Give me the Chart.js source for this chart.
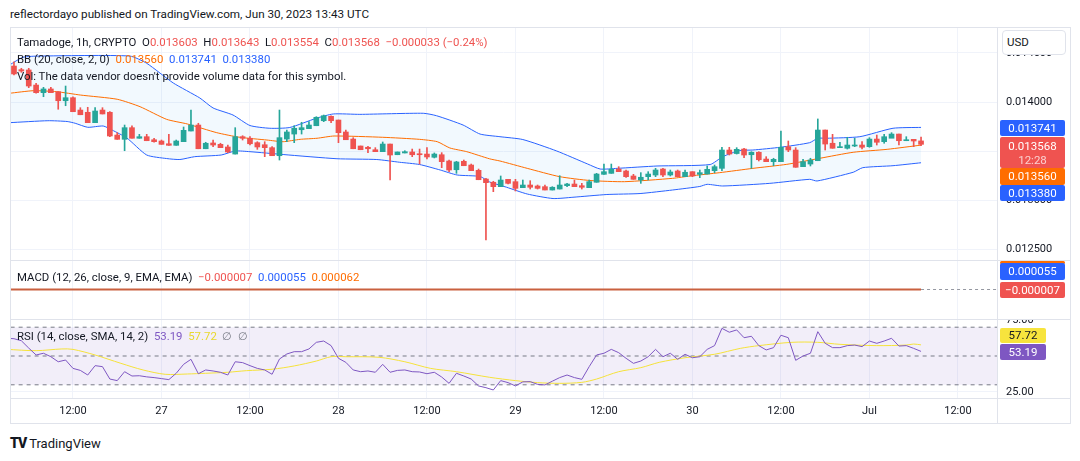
<!DOCTYPE html>
<html>
<head>
<meta charset="utf-8">
<script src="https://cdn.jsdelivr.net/npm/chart.js@4.4.0/dist/chart.umd.min.js"></script>
<style>
  body { margin: 0; width: 1080px; height: 461px; overflow: hidden; position: relative; background: #fff; font-family: Roboto, "Liberation Sans", sans-serif; color: #131722; }
  canvas { position: absolute; }
  .hl { position: absolute; height: 1px; background: #e0e3eb; }
  .vl { position: absolute; width: 1px; background: #e0e3eb; }
  .leg { position: absolute; left: 17px; font-size: 11.4px; line-height: 14px; white-space: pre; }
  .tag { position: absolute; left: 1000px; width: 65px; color: #fff; font-size: 11.5px; text-align: center; border-radius: 2px; }
  .r { color: #ef5350; } .o { color: #ff6d00; } .b { color: #2962ff; } .p { color: #7e57c2; } .y { color: #e8d82c; } .g { color: #787b86; }
</style>
</head>
<body>
<div style="position:absolute;left:10px;top:7px;font-size:11.7px;line-height:14px;">reflectordayo published on TradingView.com, Jun 30, 2023 13:43 UTC</div>

<canvas id="priceChart" width="1060" height="233" style="left:10px;top:27px"></canvas>
<canvas id="macdChart" width="1060" height="59" style="left:10px;top:260px"></canvas>
<canvas id="rsiChart" width="1060" height="104" style="left:10px;top:319px"></canvas>

<div class="hl" style="left:10px;top:27px;width:1061px"></div>
<div class="hl" style="left:10px;top:260px;width:1061px"></div>
<div class="hl" style="left:10px;top:319px;width:1061px"></div>
<div class="hl" style="left:10px;top:398px;width:1061px"></div>
<div class="hl" style="left:10px;top:423px;width:1061px"></div>
<div class="vl" style="left:10px;top:27px;height:397px"></div>
<div class="vl" style="left:997px;top:27px;height:397px"></div>
<div class="vl" style="left:1070px;top:27px;height:397px"></div>

<div class="leg" style="top:35px">Tamadoge, 1h, CRYPTO  O<span class="r">0.013603</span>  H<span class="r">0.013643</span>  L<span class="r">0.013554</span>  C<span class="r">0.013568</span>  <span class="r">−0.000033 (−0.24%)</span></div>
<div class="leg" style="top:52px">BB (20, close, 2, 0)  <span class="o">0.013560</span>  <span class="b">0.013741</span>  <span class="b">0.013380</span></div>
<div class="leg" style="top:69px">Vol: The data vendor doesn't provide volume data for this symbol.</div>
<div class="leg" style="top:270px">MACD (12, 26, close, 9, EMA, EMA)  <span class="r">−0.000007</span>  <span class="b">0.000055</span>  <span class="o">0.000062</span></div>
<div class="leg" style="top:329px">RSI (14, close, SMA, 14, 2)  <span class="p">53.19</span>  <span class="y">57.72</span>  <span class="g">∅  ∅</span></div>

<div style="position:absolute;left:1002px;top:30px;width:64px;height:25px;border:1px solid #e0e3eb;border-radius:4px;font-size:11.5px;line-height:23px;padding-left:4px;box-sizing:border-box;background:#fff">USD</div>
<div class="tag" style="top:120px;height:16px;line-height:16px;background:#2962ff">0.013741</div>
<div class="tag" style="top:137px;height:31px;line-height:14px;background:#ef5350;padding-top:2px;box-sizing:border-box">0.013568<br><span style="color:#fbd0cf">12:28</span></div>
<div class="tag" style="top:168px;height:17px;line-height:17px;background:#ff6d00">0.013560</div>
<div class="tag" style="top:185px;height:16px;line-height:16px;background:#2962ff">0.013380</div>
<div class="tag" style="top:261px;height:3px;background:#ff6d00"></div>
<div class="tag" style="top:263px;height:17px;line-height:17px;background:#2962ff">0.000055</div>
<div class="tag" style="top:282px;height:16px;line-height:16px;background:#ef5350">−0.000007</div>
<div class="tag" style="top:328px;height:15px;line-height:15px;width:46px;background:#f7e43d;color:#131722">57.72</div>
<div class="tag" style="top:344px;height:16px;line-height:16px;width:46px;background:#7e57c2">53.19</div>

<div style="position:absolute;left:10px;top:436px;font-size:13px;line-height:14px;"><span style="font-weight:900;letter-spacing:-1px;font-size:14px">TV</span> TradingView</div>

<script>
const tickIdx = [8, 20, 32, 44, 56, 68, 80, 92, 104, 116, 128];
const tickLabels = ['12:00', '27', '12:00', '28', '12:00', '29', '12:00', '30', '12:00', 'Jul', '12:00'];
const priceTicks = [0.0125, 0.013, 0.0135, 0.014, 0.0145];
const rsiTicks = [25, 75];

const open = [0.014367,0.014330,0.014327,0.014173,0.014095,0.014133,0.014105,0.014013,0.014044,0.013918,0.013895,0.013789,0.013918,0.013895,0.013663,0.013619,0.013738,0.013630,0.013646,0.013615,0.013602,0.013574,0.013558,0.013595,0.013704,0.013765,0.013523,0.013582,0.013568,0.013541,0.013469,0.013646,0.013630,0.013585,0.013564,0.013534,0.013452,0.013622,0.013673,0.013717,0.013728,0.013758,0.013809,0.013854,0.013816,0.013694,0.013622,0.013551,0.013538,0.013513,0.013493,0.013571,0.013462,0.013480,0.013490,0.013472,0.013469,0.013436,0.013462,0.013398,0.013309,0.013395,0.013357,0.013303,0.013214,0.013181,0.013136,0.013211,0.013187,0.013126,0.013153,0.013143,0.013136,0.013102,0.013112,0.013146,0.013163,0.013146,0.013126,0.013181,0.013262,0.013272,0.013316,0.013296,0.013245,0.013204,0.013238,0.013255,0.013316,0.013255,0.013296,0.013238,0.013289,0.013262,0.013265,0.013299,0.013323,0.013510,0.013474,0.013520,0.013462,0.013487,0.013418,0.013391,0.013391,0.013544,0.013510,0.013340,0.013367,0.013401,0.013714,0.013579,0.013534,0.013528,0.013551,0.013561,0.013544,0.013622,0.013595,0.013630,0.013673,0.013605,0.013619,0.013603];
const high = [0.014411,0.014344,0.014344,0.014191,0.014150,0.014150,0.014105,0.014163,0.014054,0.013942,0.013946,0.013942,0.013942,0.013901,0.013687,0.013765,0.013758,0.013670,0.013670,0.013630,0.013612,0.013670,0.013612,0.013745,0.013918,0.013783,0.013589,0.013612,0.013579,0.013561,0.013738,0.013656,0.013646,0.013595,0.013595,0.013544,0.013918,0.013714,0.013758,0.013793,0.013799,0.013850,0.013867,0.013860,0.013816,0.013714,0.013636,0.013551,0.013548,0.013534,0.013592,0.013571,0.013490,0.013503,0.013520,0.013520,0.013534,0.013480,0.013483,0.013408,0.013395,0.013408,0.013367,0.013316,0.013221,0.013191,0.013245,0.013211,0.013211,0.013204,0.013197,0.013153,0.013153,0.013136,0.013248,0.013170,0.013204,0.013170,0.013204,0.013272,0.013367,0.013367,0.013340,0.013306,0.013262,0.013279,0.013289,0.013323,0.013323,0.013306,0.013306,0.013306,0.013289,0.013306,0.013347,0.013357,0.013538,0.013538,0.013534,0.013527,0.013493,0.013493,0.013442,0.013426,0.013704,0.013602,0.013534,0.013415,0.013426,0.013827,0.013714,0.013670,0.013589,0.013640,0.013630,0.013595,0.013636,0.013663,0.013670,0.013687,0.013673,0.013646,0.013619,0.013643];
const low = [0.014276,0.014303,0.014146,0.014089,0.014054,0.014095,0.013926,0.013962,0.013901,0.013870,0.013789,0.013789,0.013878,0.013646,0.013619,0.013503,0.013630,0.013630,0.013605,0.013589,0.013568,0.013558,0.013558,0.013595,0.013704,0.013523,0.013523,0.013544,0.013534,0.013483,0.013469,0.013612,0.013561,0.013517,0.013442,0.013452,0.013408,0.013595,0.013585,0.013673,0.013728,0.013758,0.013799,0.013789,0.013585,0.013615,0.013523,0.013513,0.013483,0.013493,0.013493,0.013204,0.013462,0.013480,0.013442,0.013367,0.013418,0.013429,0.013330,0.013289,0.013272,0.013350,0.013299,0.013207,0.012592,0.013085,0.013136,0.013163,0.013092,0.013126,0.013112,0.013112,0.013102,0.013102,0.013112,0.013136,0.013136,0.013112,0.013126,0.013181,0.013262,0.013272,0.013289,0.013231,0.013211,0.013170,0.013204,0.013238,0.013238,0.013245,0.013238,0.013238,0.013238,0.013228,0.013265,0.013279,0.013299,0.013459,0.013469,0.013432,0.013323,0.013398,0.013391,0.013350,0.013391,0.013493,0.013334,0.013340,0.013347,0.013401,0.013510,0.013528,0.013534,0.013520,0.013544,0.013520,0.013538,0.013561,0.013579,0.013636,0.013561,0.013605,0.013544,0.013554];
const close = [0.014286,0.014316,0.014163,0.014095,0.014133,0.014095,0.014013,0.014044,0.013901,0.013870,0.013789,0.013908,0.013878,0.013653,0.013619,0.013738,0.013630,0.013646,0.013605,0.013595,0.013568,0.013558,0.013602,0.013711,0.013765,0.013523,0.013579,0.013561,0.013534,0.013490,0.013646,0.013630,0.013574,0.013541,0.013534,0.013452,0.013636,0.013694,0.013732,0.013738,0.013765,0.013844,0.013860,0.013809,0.013687,0.013615,0.013523,0.013513,0.013523,0.013493,0.013571,0.013459,0.013490,0.013493,0.013462,0.013462,0.013439,0.013469,0.013391,0.013306,0.013388,0.013350,0.013299,0.013207,0.013177,0.013136,0.013204,0.013170,0.013119,0.013153,0.013130,0.013119,0.013102,0.013130,0.013153,0.013163,0.013136,0.013130,0.013187,0.013265,0.013289,0.013313,0.013289,0.013238,0.013211,0.013232,0.013265,0.013306,0.013255,0.013286,0.013238,0.013283,0.013245,0.013279,0.013313,0.013340,0.013510,0.013469,0.013517,0.013459,0.013487,0.013411,0.013391,0.013415,0.013538,0.013510,0.013334,0.013391,0.013408,0.013714,0.013571,0.013528,0.013544,0.013561,0.013561,0.013538,0.013622,0.013589,0.013646,0.013673,0.013605,0.013612,0.013602,0.013568];

// Bollinger bands at the bends
const bbUpperX = [-0.6,1.2,3.5,15.7,18.0,21.6,25.2,27.0,29.7,32.0,34.7,37.4,41.0,43.3,46.9,55.5,57.3,60.9,63.2,65.9,69.0,73.6,77.8,79.5,81.8,87.2,94.4,96.1,98.4,100.2,103.9,107.9,109.0,110.2,114.7,119.2,123];
const bbUpper = [0.014378,0.014456,0.014469,0.014469,0.014395,0.014194,0.014041,0.013939,0.013867,0.013760,0.013732,0.013740,0.013834,0.013878,0.013874,0.013885,0.013860,0.013765,0.013673,0.013646,0.013617,0.013500,0.013367,0.013316,0.013323,0.013347,0.013362,0.013442,0.013505,0.013510,0.013538,0.013585,0.013630,0.013630,0.013646,0.013732,0.013741];
const bbBasisX = [-0.6,2.6,5.8,9.0,14.0,17.1,20.7,23.5,27.5,30.6,34.3,36.5,38.8,41.1,43.4,50.0,55.0,57.4,59.1,61.4,64.5,65.9,69.6,74.0,78.1,82.8,89.3,91.7,95.7,100.2,104.8,109.3,113.8,118.4,123];
const bbBasis = [0.014089,0.014115,0.014105,0.014071,0.014028,0.013952,0.013823,0.013776,0.013687,0.013640,0.013612,0.013595,0.013619,0.013630,0.013653,0.013640,0.013619,0.013595,0.013531,0.013493,0.013420,0.013398,0.013323,0.013238,0.013199,0.013187,0.013221,0.013245,0.013279,0.013323,0.013364,0.013426,0.013487,0.013517,0.013560];
const bbLowerX = [-0.6,4.6,7.2,8.3,10.0,12.1,13.3,15.3,18.0,20.7,22.5,24.5,28.1,30.0,32.0,36.5,43.8,49.2,52.3,55.0,57.8,60.1,63.2,64.5,66.8,69.6,73.1,75.8,80.4,84.9,89.3,93.0,94.0,96.1,102.5,107.9,108.9,113.8,115.1,119.2,123];
const bbLower = [0.013789,0.013809,0.013801,0.013783,0.013742,0.013755,0.013714,0.013633,0.013459,0.013423,0.013413,0.013442,0.013459,0.013500,0.013493,0.013464,0.013421,0.013413,0.013385,0.013362,0.013306,0.013255,0.013240,0.013184,0.013130,0.013061,0.013015,0.013028,0.013056,0.013066,0.013102,0.013138,0.013160,0.013143,0.013170,0.013211,0.013194,0.013283,0.013330,0.013350,0.013380];

// MACD pane is flat at this zoom
const macdX = [-1, 123];
const macdVals = [-0.000007, -0.000007];

// RSI, one value per bar starting one bar before the first candle
const rsi = [62.3,62.0,60.6,55.5,50.7,51.9,49.5,46.0,47.2,41.4,40.0,36.8,43.3,42.6,34.0,32.9,39.1,36.1,36.3,35.5,35.0,34.3,33.6,38.0,44.2,47.7,37.7,40.3,39.6,38.7,36.8,46.0,45.4,43.3,41.4,40.3,37.3,47.9,51.4,53.0,53.0,54.9,59.5,60.4,57.2,48.4,45.6,40.3,39.1,39.6,38.7,44.2,38.7,40.0,40.3,39.1,38.9,37.7,38.7,35.4,31.0,38.0,36.1,34.0,29.2,28.0,26.4,32.9,31.5,29.2,32.0,32.2,30.3,29.9,32.5,35.0,36.8,35.0,33.8,42.6,50.7,51.9,54.6,52.3,48.4,44.9,46.5,49.5,54.6,49.5,51.9,47.7,51.2,48.8,49.5,54.6,57.2,69.2,66.5,68.1,62.7,63.7,57.2,54.2,55.8,64.4,62.7,47.0,50.0,51.9,66.9,58.8,55.8,55.8,57.2,57.6,56.5,60.4,58.8,60.4,62.3,56.9,57.2,55.3,53.19];
const rsiMaX = [-1,3,6.5,8,11,14.5,17.5,20.5,23.5,26,29,31.5,35,38,41,43,45,49.5,53,56.5,60,64.5,68,71,74,77,79,82,85,87.5,91,95,98.5,101,105.5,109,112,117,121,122,123];
const rsiMa = [54.6,53.7,54.9,54.6,50.7,44.9,40.3,37.3,37.5,38.0,38.7,39.8,40.8,43.1,46.5,49.5,49.5,49.1,46.0,41.4,39.1,35.2,32.9,31.5,31.0,31.7,34.0,39.1,41.9,45.6,48.8,51.2,55.3,57.2,59.5,59.5,58.1,57.2,57.6,58.3,57.72];
const rsiLevels = [70, 50, 30];

const UP = '#26a69a';
const DOWN = '#ef5350';
const X_MIN = -0.54;
const X_MAX = 133.3;
const GRID = '#f0f3fa';

Chart.defaults.font.family = 'Roboto';
Chart.defaults.font.size = 11;
Chart.defaults.color = '#131722';

const pts = (xs, ys) => xs.map((x, i) => ({ x: x, y: ys[i] }));

function xAxis(withLabels) {
  return {
    type: 'linear',
    min: X_MIN,
    max: X_MAX,
    offset: false,
    grid: { color: GRID, drawTicks: false, offset: false },
    border: { display: false },
    ticks: withLabels
      ? { display: true, padding: 7, maxRotation: 0, autoSkip: false, callback: (v, i) => tickLabels[i] }
      : { display: false },
    afterBuildTicks: s => { s.ticks = tickIdx.map(v => ({ value: v })); },
    afterFit: s => { s.height = withLabels ? 25 : 0; s.paddingLeft = 0; s.paddingRight = 0; }
  };
}

function yAxis(min, max, ticks, fmt) {
  return {
    position: 'right',
    min: min,
    max: max,
    grid: { display: !!ticks, color: GRID, drawTicks: false },
    border: { display: false },
    ticks: ticks ? { padding: 9, callback: fmt } : { display: false },
    afterBuildTicks: s => { if (ticks) s.ticks = ticks.map(v => ({ value: v })); },
    afterFit: s => { s.width = 73; s.paddingTop = 0; s.paddingBottom = 0; }
  };
}

const baseOptions = {
  responsive: false,
  animation: false,
  events: [],
  layout: { padding: 0 },
  plugins: { legend: { display: false }, tooltip: { enabled: false } }
};

const idx = open.map((_, i) => i);
const candleColors = idx.map(i => (close[i] >= open[i] ? UP : DOWN));

new Chart(document.getElementById('priceChart'), {
  type: 'bar',
  data: {
    datasets: [
      {
        type: 'line',
        data: pts(bbUpperX, bbUpper),
        borderColor: '#2962ff',
        borderWidth: 1,
        pointRadius: 0,
        tension: 0.2,
        fill: { target: 1 },
        backgroundColor: 'rgba(33, 150, 243, 0.06)',
        order: 5
      },
      {
        type: 'line',
        data: pts(bbLowerX, bbLower),
        borderColor: '#2962ff',
        borderWidth: 1,
        pointRadius: 0,
        tension: 0.2,
        fill: false,
        order: 4
      },
      {
        type: 'line',
        data: pts(bbBasisX, bbBasis),
        borderColor: '#ff6d00',
        borderWidth: 1,
        pointRadius: 0,
        tension: 0.2,
        fill: false,
        order: 3
      },
      {
        label: 'wicks',
        data: idx.map(i => ({ x: i, y: [low[i], high[i]] })),
        backgroundColor: candleColors,
        barThickness: 1,
        grouped: false,
        order: 2
      },
      {
        label: 'bodies',
        data: idx.map(i => ({ x: i, y: [open[i], close[i]] })),
        backgroundColor: candleColors,
        barThickness: 5,
        minBarLength: 1,
        grouped: false,
        order: 1
      }
    ]
  },
  options: {
    ...baseOptions,
    scales: {
      x: xAxis(false),
      y: yAxis(0.0123878, 0.0147653, priceTicks, v => v.toFixed(6))
    }
  }
});

new Chart(document.getElementById('macdChart'), {
  type: 'line',
  data: {
    datasets: [
      {
        data: pts(macdX, macdVals),
        borderColor: '#c9603f',
        borderWidth: 2,
        pointRadius: 0
      },
      {
        data: pts([123, X_MAX], [macdVals[1], macdVals[1]]),
        borderColor: '#9598a1',
        borderWidth: 1,
        borderDash: [3, 3],
        pointRadius: 0
      }
    ]
  },
  options: {
    ...baseOptions,
    scales: {
      x: xAxis(false),
      y: yAxis(-0.000107, 0.000093, null)
    }
  }
});

const levelLine = v => ({
  data: pts([X_MIN - 1, X_MAX + 1], [v, v]),
  borderColor: '#787b86',
  borderWidth: 1,
  borderDash: [4, 4],
  pointRadius: 0
});

new Chart(document.getElementById('rsiChart'), {
  type: 'line',
  data: {
    datasets: [
      { ...levelLine(rsiLevels[0]), fill: { target: 2 }, backgroundColor: 'rgba(126, 87, 194, 0.1)', order: 5 },
      { ...levelLine(rsiLevels[1]), order: 4 },
      { ...levelLine(rsiLevels[2]), order: 3 },
      {
        data: pts(rsiMaX, rsiMa),
        borderColor: '#f5e23a',
        borderWidth: 1,
        pointRadius: 0,
        tension: 0.3,
        order: 2
      },
      {
        data: rsi.map((v, i) => ({ x: i - 1, y: v })),
        borderColor: '#7e57c2',
        borderWidth: 1,
        pointRadius: 0,
        order: 1
      }
    ]
  },
  options: {
    ...baseOptions,
    scales: {
      x: xAxis(true),
      y: yAxis(20.83, 75.69, rsiTicks, v => v.toFixed(2))
    }
  }
});
</script>
</body>
</html>
